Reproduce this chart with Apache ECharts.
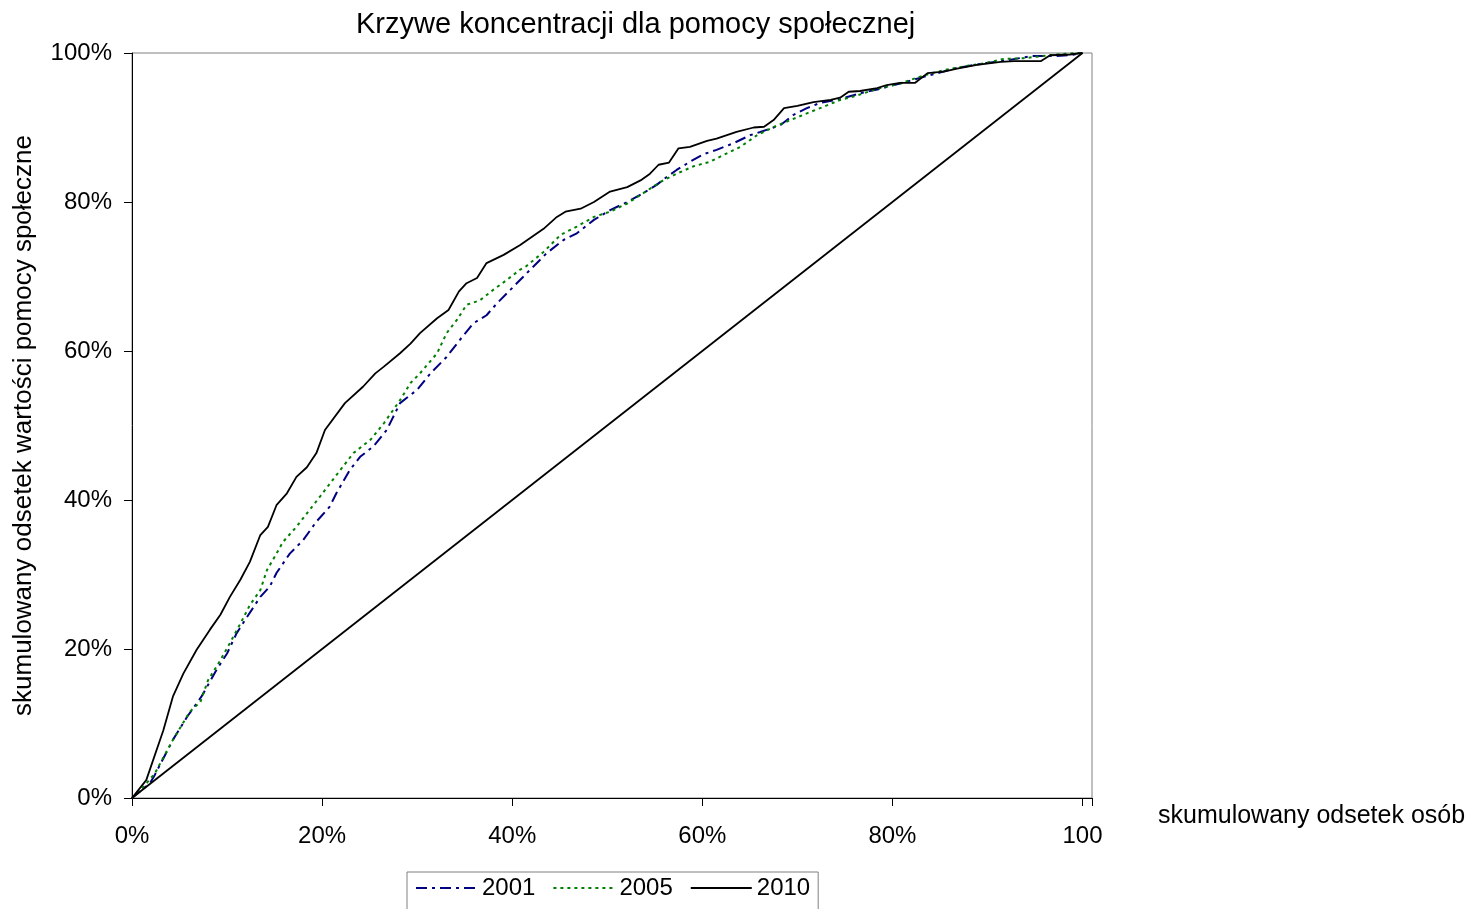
<!DOCTYPE html>
<html>
<head>
<meta charset="utf-8">
<script src="https://cdn.jsdelivr.net/npm/echarts@6/dist/echarts.min.js"></script>
<style>
  html, body { margin: 0; padding: 0; background: #fff; }
  #chart { width: 1473px; height: 909px; }
</style>
</head>
<body>
<div id="chart"></div>
<script>
// skumulowany odsetek osób (x, %) / skumulowany odsetek wartości (y, %)
const xTicks = [0, 20, 40, 60, 80, 100]
const yTicks = [0, 20, 40, 60, 80, 100]
const years = ['2001', '2005', '2010']

const curve2001 = [[0,0],[1.9,2.0],[2.4,3.1],[4.3,7.8],[5.8,10.9],[7.3,13.6],[8.9,17.2],[10.0,19.4],[11.0,22.1],[12.1,24.3],[13.5,27.0],[14.5,28.4],[15.2,30.2],[16.6,32.8],[18.0,34.6],[19.4,37.1],[20.8,39.1],[21.5,40.9],[22.9,44.0],[24.0,45.8],[25.4,47.2],[26.8,49.4],[28.2,53.0],[30.0,54.8],[31.4,57.0],[33.1,59.2],[34.5,61.5],[35.9,63.7],[37.3,64.8],[38.4,66.4],[39.8,68.2],[41.5,70.4],[43.6,73.1],[45.4,74.9],[46.8,75.8],[48.6,77.6],[50.3,78.9],[52.1,80.0],[53.8,81.2],[55.2,82.3],[56.3,83.4],[57.3,84.3],[58.7,85.4],[60.1,86.4],[61.5,87.0],[63.3,87.9],[65.1,89.0],[66.1,89.4],[68.2,90.3],[69.6,91.7],[71.0,92.6],[72.4,93.3],[74.5,93.8],[76.6,94.6],[78.4,95.1],[80.8,95.9],[83.3,96.8],[86.8,98.0],[89.6,98.6],[92.0,99.0],[94.7,99.6],[97.3,99.6],[98.7,99.7],[100,100]]

const curve2005 = [[0,0],[1.2,1.5],[2.4,3.3],[4.3,7.8],[6.1,11.6],[7.2,12.9],[8.0,15.8],[9.3,18.5],[10.3,20.8],[11.4,23.4],[12.4,25.9],[13.5,27.9],[14.2,30.6],[15.2,32.8],[15.9,34.4],[17.3,36.4],[18.7,38.7],[19.8,40.5],[21.9,44.0],[23.3,46.3],[25.1,48.1],[26.5,50.3],[28.2,53.4],[29.3,55.7],[30.3,57.0],[32.1,59.7],[33.1,62.4],[34.2,64.2],[35.2,66.2],[36.6,66.8],[38.0,68.2],[39.4,69.5],[40.8,70.9],[41.5,71.4],[43.3,73.3],[45.1,75.6],[46.8,76.7],[48.6,78.0],[50.3,78.7],[52.1,79.8],[53.8,81.2],[55.6,82.7],[57.3,83.8],[59.1,84.8],[60.8,85.4],[61.9,86.1],[64.0,87.4],[65.8,89.0],[67.9,90.3],[68.9,90.8],[71.0,91.9],[72.8,92.8],[74.5,93.7],[76.3,94.3],[78.4,95.2],[80.8,95.9],[83.3,97.0],[85.4,97.7],[87.5,98.2],[89.6,98.6],[91.7,99.2],[93.8,99.3],[95.2,99.5],[97.3,99.8],[99.4,100],[100,100]]

const curve2010 = [[0,0],[1.5,2.4],[3.3,9.1],[4.3,13.6],[5.4,16.7],[6.8,19.9],[8.2,22.6],[9.3,24.6],[10.3,27.0],[11.4,29.3],[12.4,31.7],[13.5,35.3],[14.3,36.4],[15.2,39.3],[16.3,40.9],[17.3,43.1],[18.4,44.4],[19.4,46.3],[20.3,49.4],[22.4,53.0],[24.3,55.2],[25.6,57.0],[26.5,57.9],[28.2,59.7],[29.3,61.0],[30.3,62.4],[32.1,64.4],[33.3,65.5],[34.4,68.0],[35.2,69.1],[36.3,69.8],[37.3,71.8],[39.1,72.9],[40.8,74.2],[43.3,76.4],[44.7,78.0],[45.6,78.7],[47.2,79.1],[48.6,80.0],[50.3,81.4],[52.1,82.0],[53.5,82.9],[54.5,83.8],[55.4,85.0],[56.5,85.3],[57.5,87.2],[58.7,87.4],[60.5,88.2],[61.5,88.5],[63.6,89.4],[65.4,90.0],[66.5,90.1],[67.5,91.0],[68.6,92.6],[70.0,92.9],[71.7,93.4],[73.5,93.7],[74.5,94.0],[75.4,94.8],[76.6,94.9],[78.4,95.3],[79.4,95.7],[80.8,96.0],[82.4,96.0],[83.7,97.3],[85.4,97.5],[86.8,97.9],[88.9,98.4],[91.4,98.8],[92.8,98.9],[95.6,98.9],[96.6,99.7],[98.7,99.8],[100,100]]

// linia równomiernego rozkładu
const equality = [[0,0],[100,100]]

const font = 'Liberation Sans, Arial, sans-serif'

const chart = echarts.init(document.getElementById('chart'))

const option = {
  animation: false,
  backgroundColor: '#fff',
  title: {
    text: 'Krzywe koncentracji dla pomocy społecznej',
    left: 356,
    top: 10,
    padding: 0,
    textStyle: { fontFamily: font, fontSize: 29, fontWeight: 'normal', color: '#000' }
  },
  legend: {
    data: years,
    left: 407,
    top: 872,
    padding: [4, 8, 30, 8],
    itemGap: 17,
    itemWidth: 61,
    itemHeight: 14,
    itemStyle: { opacity: 0 },
    borderColor: '#808080',
    borderWidth: 1,
    textStyle: { fontFamily: font, fontSize: 24, color: '#000' }
  },
  grid: {
    left: 132,
    top: 53,
    right: 381,
    bottom: 111,
    show: true,
    borderColor: '#808080',
    borderWidth: 1
  },
  xAxis: {
    type: 'value',
    min: 0,
    max: 101,
    interval: 20,
    axisLine: { show: true, lineStyle: { color: '#000', width: 1 } },
    axisTick: { show: true, length: 8, lineStyle: { color: '#000' } },
    splitLine: { show: false },
    axisLabel: {
      margin: 26,
      fontFamily: font,
      fontSize: 24,
      color: '#000',
      formatter: v => xTicks.includes(v) ? (v === 100 ? '100' : v + '%') : ''
    }
  },
  yAxis: {
    type: 'value',
    min: 0,
    max: 100,
    interval: 20,
    name: 'skumulowany odsetek wartości pomocy społeczne',
    nameLocation: 'middle',
    nameGap: 95,
    nameTextStyle: { fontFamily: font, fontSize: 26, color: '#000' },
    axisLine: { show: true, lineStyle: { color: '#000', width: 1 } },
    axisTick: { show: true, length: 8, lineStyle: { color: '#000' } },
    splitLine: { show: false },
    axisLabel: {
      margin: 20,
      fontFamily: font,
      fontSize: 24,
      color: '#000',
      formatter: v => yTicks.includes(v) ? v + '%' : ''
    }
  },
  graphic: [{
    type: 'text',
    left: 1158,
    top: 804,
    style: { text: 'skumulowany odsetek osób', font: '25px ' + font, fill: '#000' }
  }],
  series: [
    {
      name: '2001', type: 'line', data: curve2001, symbol: 'none',
      lineStyle: { color: '#000080', width: 2, type: [11, 5, 3, 5] },
      itemStyle: { color: '#000080' }
    },
    {
      name: '2005', type: 'line', data: curve2005, symbol: 'none',
      lineStyle: { color: '#008000', width: 2, type: [3, 4] },
      itemStyle: { color: '#008000' }
    },
    {
      name: '2010', type: 'line', data: curve2010, symbol: 'none',
      lineStyle: { color: '#000', width: 1.8 },
      itemStyle: { color: '#000' }
    },
    {
      name: 'równomierny', type: 'line', data: equality, symbol: 'none',
      lineStyle: { color: '#000', width: 1.8 },
      itemStyle: { color: '#000' }
    }
  ]
}

chart.setOption(option)
</script>
</body>
</html>
